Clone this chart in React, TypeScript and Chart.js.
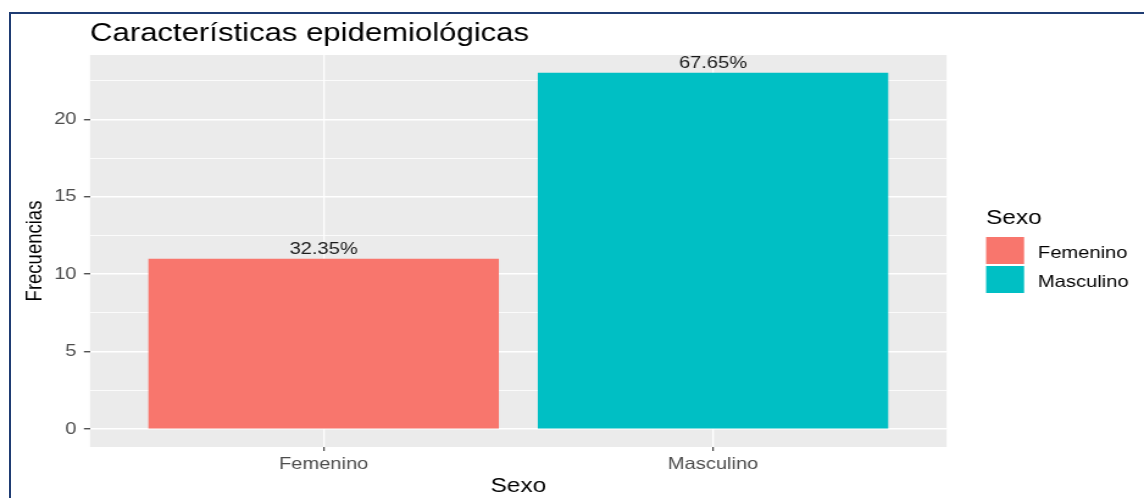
import React, { useEffect, useRef } from 'react';
import { Chart, registerables } from 'chart.js';

Chart.register(...registerables);

// ---- data ----
const categories = ['Femenino', 'Masculino'];
const frequencies = [11, 23];
const percentLabels = ['32.35%', '67.65%'];
const barColors = ['#F8766D', '#00BFC4'];
const yGridTicks = [0, 2.5, 5, 7.5, 10, 12.5, 15, 17.5, 20, 22.5];
const yLabelTicks = [0, 5, 10, 15, 20];
const chartTitle = 'Características epidemiológicas';
const xAxisTitle = 'Sexo';
const yAxisTitle = 'Frecuencias';
const legendTitle = 'Sexo';

// ---- layout (canvas drawn narrower, then stretched horizontally like the reference) ----
const CANVAS_W = 938;
const CANVAS_H = 498;
const DISPLAY_W = 1144;
const FONT = '"Liberation Sans", Arial, Helvetica, sans-serif';

const yMaxData = Math.max(...frequencies);
const yMin = -0.05 * yMaxData;
const yMax = yMaxData * 1.05;

const panelBg = {
  id: 'panelBg',
  beforeDraw(chart: any) {
    const { ctx, chartArea } = chart;
    ctx.save();
    ctx.fillStyle = '#EBEBEB';
    ctx.fillRect(chartArea.left, chartArea.top, chartArea.right - chartArea.left, chartArea.bottom - chartArea.top);
    ctx.restore();
  },
};

const barLabels = {
  id: 'barLabels',
  afterDatasetsDraw(chart: any) {
    const { ctx } = chart;
    ctx.save();
    ctx.font = `16.5px ${FONT}`;
    ctx.fillStyle = '#1A1A1A';
    ctx.textAlign = 'center';
    ctx.textBaseline = 'alphabetic';
    chart.data.datasets.forEach((_: any, i: number) => {
      const meta = chart.getDatasetMeta(i);
      const el = meta.data[0];
      if (el) ctx.fillText(percentLabels[i], el.x, el.y - 5);
    });
    ctx.restore();
  },
};

const sideLegend = {
  id: 'sideLegend',
  afterDraw(chart: any) {
    const { ctx } = chart;
    const x0 = 808.5;
    ctx.save();
    ctx.fillStyle = '#000000';
    ctx.textAlign = 'left';
    ctx.textBaseline = 'alphabetic';
    ctx.font = `20px ${FONT}`;
    ctx.fillText(legendTitle, x0, 224);
    ctx.font = `16.5px ${FONT}`;
    chart.data.datasets.forEach((ds: any, i: number) => {
      const y = 237 + i * 29;
      ctx.fillStyle = ds.backgroundColor;
      ctx.fillRect(x0, y, 31.2, 27);
      ctx.fillStyle = '#000000';
      ctx.fillText(ds.label, 851.1, y + 20.7);
    });
    ctx.restore();
  },
};

export default function App() {
  const canvasRef = useRef<HTMLCanvasElement | null>(null);

  useEffect(() => {
    document.body.style.margin = '0';
    const canvas = canvasRef.current;
    if (!canvas) return;

    const datasets = categories.map((c, i) => ({
      label: c,
      data: [{ x: i + 1, y: frequencies[i] }],
      backgroundColor: barColors[i],
      borderWidth: 0,
      stack: 'one',
      barPercentage: 0.9,
      categoryPercentage: 1,
    }));

    const chart = new Chart(canvas, {
      type: 'bar',
      data: { datasets } as any,
      options: {
        animation: false,
        responsive: false,
        devicePixelRatio: 1,
        layout: { padding: { left: 0, right: CANVAS_W - 776.2, top: 0, bottom: 0 } },
        plugins: {
          legend: { display: false },
          tooltip: { enabled: false },
          title: {
            display: true,
            text: chartTitle,
            align: 'start',
            fullSize: false,
            color: '#000000',
            font: { family: FONT, size: 25.5, weight: 'normal' },
            padding: { top: 18.5, bottom: 5.9 },
          },
        },
        scales: {
          x: {
            type: 'linear',
            min: 0.4,
            max: 2.6,
            offset: false,
            afterBuildTicks: (scale: any) => {
              scale.ticks = categories.map((_, i) => ({ value: i + 1 }));
            },
            afterFit: (scale: any) => {
              scale.height = 51;
            },
            grid: {
              offset: false,
              color: '#FFFFFF',
              lineWidth: 1.3,
              drawTicks: true,
              tickLength: 4,
              tickColor: '#333333',
              tickWidth: 1.1,
            },
            border: { display: false },
            ticks: {
              autoSkip: false,
              maxRotation: 0,
              padding: 4,
              color: '#4D4D4D',
              font: { family: FONT, size: 16.5 },
              callback: (value: any) => {
                const idx = Math.round(Number(value)) - 1;
                return categories[idx] ?? '';
              },
            },
            title: {
              display: true,
              text: xAxisTitle,
              color: '#000000',
              font: { family: FONT, size: 20 },
              padding: { top: 0, bottom: 0 },
            },
          },
          y: {
            type: 'linear',
            min: yMin,
            max: yMax,
            afterBuildTicks: (scale: any) => {
              scale.ticks = yGridTicks.map((v) => ({ value: v }));
            },
            afterFit: (scale: any) => {
              scale.width = 73.8;
            },
            grid: {
              color: '#FFFFFF',
              lineWidth: (ctx: any) => (ctx.tick && yLabelTicks.includes(ctx.tick.value) ? 1.5 : 0.8),
              drawTicks: true,
              tickLength: 5,
              tickColor: (ctx: any) => (ctx.tick && yLabelTicks.includes(ctx.tick.value) ? '#333333' : 'rgba(0,0,0,0)'),
              tickWidth: 1.2,
            },
            border: { display: false },
            ticks: {
              padding: 6,
              color: '#4D4D4D',
              font: { family: FONT, size: 16.5 },
              callback: (value: any) => (yLabelTicks.includes(Number(value)) ? String(value) : ''),
            },
            title: {
              display: true,
              text: yAxisTitle,
              color: '#000000',
              font: { family: FONT, size: 18.5 },
              padding: { top: 17.5, bottom: 0 },
            },
          },
        },
      } as any,
      plugins: [panelBg, barLabels, sideLegend],
    });

    return () => {
      chart.destroy();
    };
  }, []);

  return (
    <div>
      <div style={{ position: 'fixed', left: 9, top: 12, width: 2000, height: 2, background: '#1F3C73' }} />
      <div style={{ position: 'fixed', left: 9, top: 12, width: 2, height: 1000, background: '#1F3C73' }} />
      <canvas
        ref={canvasRef}
        width={CANVAS_W}
        height={CANVAS_H}
        style={{ position: 'fixed', left: 0, top: 0, width: `${DISPLAY_W}px`, height: `${CANVAS_H}px`, display: 'block' }}
      />
    </div>
  );
}
